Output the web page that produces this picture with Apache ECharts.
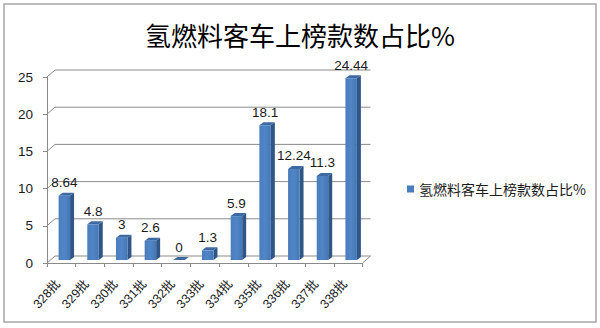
<!DOCTYPE html>
<html><head><meta charset="utf-8">
<script src="https://cdn.jsdelivr.net/npm/echarts@6/dist/echarts.min.js"></script>
<style>html,body{margin:0;padding:0;background:#fff}#c{width:600px;height:328px}</style>
</head><body><div id="c"></div>
<script>
const titleText = '氢燃料客车上榜款数占比%';
const seriesName = '氢燃料客车上榜款数占比%';
const categories = ['328批','329批','330批','331批','332批','333批','334批','335批','336批','337批','338批'];
const values = [8.64, 4.8, 3, 2.6, 0, 1.3, 5.9, 18.1, 12.24, 11.3, 24.44];
const labels = ['8.64','4.8','3','2.6','0','1.3','5.9','18.1','12.24','11.3','24.44'];
const yTicks = [0, 5, 10, 15, 20, 25];

const chart = echarts.init(document.getElementById('c'), null, {renderer: 'svg'});
const WALL_DX = 8, WALL_DY = 7, GRID_COLOR = '#8a8a8a';

function renderWall(params, api) {
  const cs = params.coordSys;
  const v = api.value(0);
  const y = api.coord([0, v])[1];
  const xl = cs.x, xr = cs.x + cs.width;
  const children = [{
    type: 'polyline',
    shape: {points: [[xl, y], [xl + WALL_DX, y - WALL_DY], [xr + WALL_DX, y - WALL_DY]]},
    style: {stroke: GRID_COLOR, lineWidth: 1, fill: null}
  }];
  if (v === 0) {
    children.push({
      type: 'line',
      shape: {x1: xr, y1: y, x2: xr + WALL_DX, y2: y - WALL_DY},
      style: {stroke: GRID_COLOR, lineWidth: 1}
    });
  }
  return {type: 'group', children};
}

function renderBar(params, api) {
  const i = api.value(0), v = api.value(1);
  const p = api.coord([i, v]);
  const p0 = api.coord([i, 0]);
  const band = api.size([1, 0])[0];
  const ox = 3, oy = -3, dx = 4, dy = 3;
  const w = band * 0.4;
  const x0 = p[0] + ox - w / 2, x1 = x0 + w;
  const yt = p[1] + oy, yb = p0[1] + oy;
  return {
    type: 'group',
    children: [
      {type: 'polygon', shape: {points: [[x1, yt], [x1 + dx, yt - dy], [x1 + dx, yb - dy], [x1, yb]]},
        style: {fill: '#2f5687'}},
      {type: 'polygon', shape: {points: [[x0, yt], [x0 + dx, yt - dy], [x1 + dx, yt - dy], [x1, yt]]},
        style: {fill: '#3d6aa3'}},
      {type: 'rect', shape: {x: x0, y: yt, width: w, height: Math.max(yb - yt, 0)},
        style: {fill: new echarts.graphic.LinearGradient(0, 0, 1, 0, [
          {offset: 0, color: '#4a7dbd'}, {offset: 0.5, color: '#5085c6'}, {offset: 1, color: '#4677b5'}])}},
      {type: 'text', style: {text: labels[i], x: p[0] + ox, y: yt - 13, align: 'center', verticalAlign: 'middle',
        font: '13.5px "Liberation Sans", Arial, sans-serif', fill: '#1a1a1a'}}
    ]
  };
}

chart.setOption({
  animation: false,
  backgroundColor: '#fff',
  title: {
    text: titleText, left: 'center', top: 16,
    textStyle: {fontFamily: '"Noto Sans CJK SC", sans-serif', fontSize: 26, fontWeight: 'normal', color: '#000'}
  },
  legend: {
    data: [seriesName], left: 402, top: 177, icon: 'rect', itemWidth: 7, itemHeight: 7, itemGap: 5,
    textStyle: {fontFamily: '"Noto Sans CJK SC", sans-serif', fontSize: 14, color: '#1a1a1a'}
  },
  grid: {left: 47, top: 77, width: 315.5, height: 186},
  xAxis: {
    type: 'category', data: categories,
    axisLine: {show: true, lineStyle: {color: GRID_COLOR}},
    axisTick: {show: true, length: 4, lineStyle: {color: GRID_COLOR}},
    axisLabel: {rotate: 48, margin: 15, padding: [0, 5, 0, 0], fontSize: 12.5, color: '#1a1a1a',
      fontFamily: '"Liberation Sans", "Noto Sans CJK SC", sans-serif'},
    splitLine: {show: false}
  },
  yAxis: {
    type: 'value', min: 0, max: 25, interval: 5,
    axisLine: {show: true, lineStyle: {color: GRID_COLOR}},
    axisTick: {show: true, length: 4, lineStyle: {color: GRID_COLOR}},
    axisLabel: {margin: 14, fontSize: 13.5, color: '#1a1a1a', fontFamily: '"Liberation Sans", Arial, sans-serif'},
    splitLine: {show: false}
  },
  graphic: [{
    type: 'rect', shape: {x: 4, y: 4, width: 592, height: 318},
    style: {fill: null, stroke: '#a6a6a6', lineWidth: 1.5}, silent: true, z: -10
  }],
  series: [
    {type: 'custom', name: 'wall', renderItem: renderWall, data: yTicks.map(v => [v]),
      encode: {y: 0}, z: 1, silent: true},
    {type: 'custom', name: seriesName, renderItem: renderBar,
      data: values.map((v, i) => [i, v]), encode: {x: 0, y: 1},
      itemStyle: {color: '#4a7dbd'}, z: 3}
  ]
});
</script></body></html>
